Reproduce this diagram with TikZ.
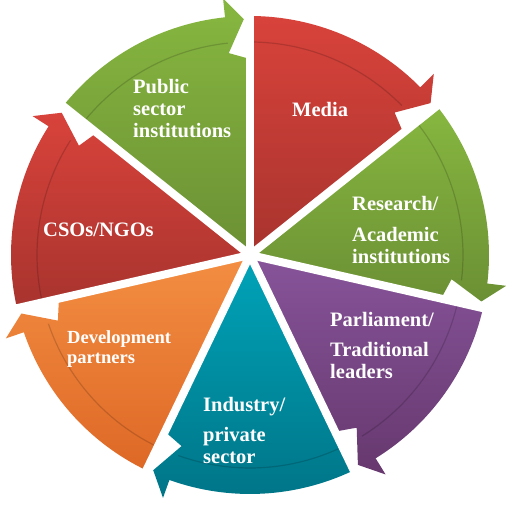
\documentclass[tikz,border=0pt]{standalone}
\usepackage{fontspec}
\setmainfont{Liberation Serif}
\usepackage{tikz}
\definecolor{redtop}{HTML}{D8433B}
\definecolor{redbot}{HTML}{A8332E}
\definecolor{greentop}{HTML}{87B740}
\definecolor{greenbot}{HTML}{6B9034}
\definecolor{purpletop}{HTML}{87549A}
\definecolor{purplebot}{HTML}{66386E}
\definecolor{tealtop}{HTML}{00A4B9}
\definecolor{tealbot}{HTML}{007487}
\definecolor{orangetop}{HTML}{F38E42}
\definecolor{orangebot}{HTML}{DE6826}

\begin{document}
\begin{tikzpicture}[x=1pt,y=1pt,
	band/.style={draw=black,opacity=0.16,line width=1.2pt},
	gap/.style={draw=white,line width=8pt},
	lbl/.style={text=white,font=\bfseries\fontsize{20.5}{22}\selectfont,align=left,anchor=west,inner sep=0pt}]
	
	\useasboundingbox (0,0) rectangle (520,510);
	\coordinate (c) at (250,255);
	
	\begin{scope}[shift={(c)}]
		% Media
		\shade[top color=redtop,bottom color=redbot] (0,0) -- (90:239) arc[start angle=90,end angle=44.57,radius=239] -- (44.57:258) -- (40.07:236) -- (44.57:203) -- (38.57:196) -- cycle;
		\draw[band] (90:213) arc[start angle=90,end angle=44.57,radius=213];
		% Research
		\shade[top color=greentop,bottom color=greenbot] (0,0) -- (38.57:239) arc[start angle=38.57,end angle=-6.86,radius=239] -- (-6.86:258) -- (-11.36:236) -- (-6.86:203) -- (-12.86:196) -- cycle;
		\draw[band] (38.57:213) arc[start angle=38.57,end angle=-6.86,radius=213];
		% Parliament
		\shade[top color=purpletop,bottom color=purplebot] (0,0) -- (-12.86:239) arc[start angle=-12.86,end angle=-58.29,radius=239] -- (-58.29:258) -- (-62.79:236) -- (-58.29:203) -- (-64.29:196) -- cycle;
		\draw[band] (-12.86:213) arc[start angle=-12.86,end angle=-58.29,radius=213];
		% Industry
		\shade[top color=tealtop,bottom color=tealbot] (0,0) -- (-64.29:239) arc[start angle=-64.29,end angle=-109.71,radius=239] -- (-109.71:258) -- (-114.21:236) -- (-109.71:203) -- (-115.71:196) -- cycle;
		\draw[band] (-64.29:213) arc[start angle=-64.29,end angle=-109.71,radius=213];
		% Development
		\shade[top color=orangetop,bottom color=orangebot] (0,0) -- (-115.71:239) arc[start angle=-115.71,end angle=-161.14,radius=239] -- (-161.14:258) -- (-165.64:236) -- (-161.14:203) -- (-167.14:196) -- cycle;
		\draw[band] (-115.71:213) arc[start angle=-115.71,end angle=-161.14,radius=213];
		% CSOs
		\shade[top color=redtop,bottom color=redbot] (0,0) -- (192.86:239) arc[start angle=192.86,end angle=147.43,radius=239] -- (147.43:258) -- (142.93:236) -- (147.43:203) -- (141.43:196) -- cycle;
		\draw[band] (192.86:213) arc[start angle=192.86,end angle=147.43,radius=213];
		% Public sector
		\shade[top color=greentop,bottom color=greenbot] (0,0) -- (141.43:239) arc[start angle=141.43,end angle=96,radius=239] -- (96:258) -- (91.5:236) -- (96:203) -- (90:196) -- cycle;
		\draw[band] (141.43:213) arc[start angle=141.43,end angle=96,radius=213];
		
		% gaps between the parts
		\draw[gap] (0,0) -- (90:275);
		\draw[gap] (0,0) -- (38.57:275);
		\draw[gap] (0,0) -- (-12.86:275);
		\draw[gap] (0,0) -- (-64.29:275);
		\draw[gap] (0,0) -- (-115.71:275);
		\draw[gap] (0,0) -- (-167.14:275);
		\draw[gap] (0,0) -- (141.43:275);
	\end{scope}
	
	\node[lbl] (public) at (133,401) {Public\\sector\\institutions};
	\node[lbl] (media) at (292,401) {Media};
	\node[lbl] (research) at (352,280) {Research/\\[9pt]Academic\\institutions};
	\node[lbl] (parliament) at (330,165) {Parliament/\\[8pt]Traditional\\leaders};
	\node[lbl] (industry) at (203,80) {Industry/\\[8pt]private\\sector};
	\node[lbl,font=\bfseries\fontsize{18.5}{20}\selectfont] (partners) at (67,161) {Development\\partners};
	\node[lbl] (csos) at (43,280) {CSOs/NGOs};
	
\end{tikzpicture}
\end{document}
